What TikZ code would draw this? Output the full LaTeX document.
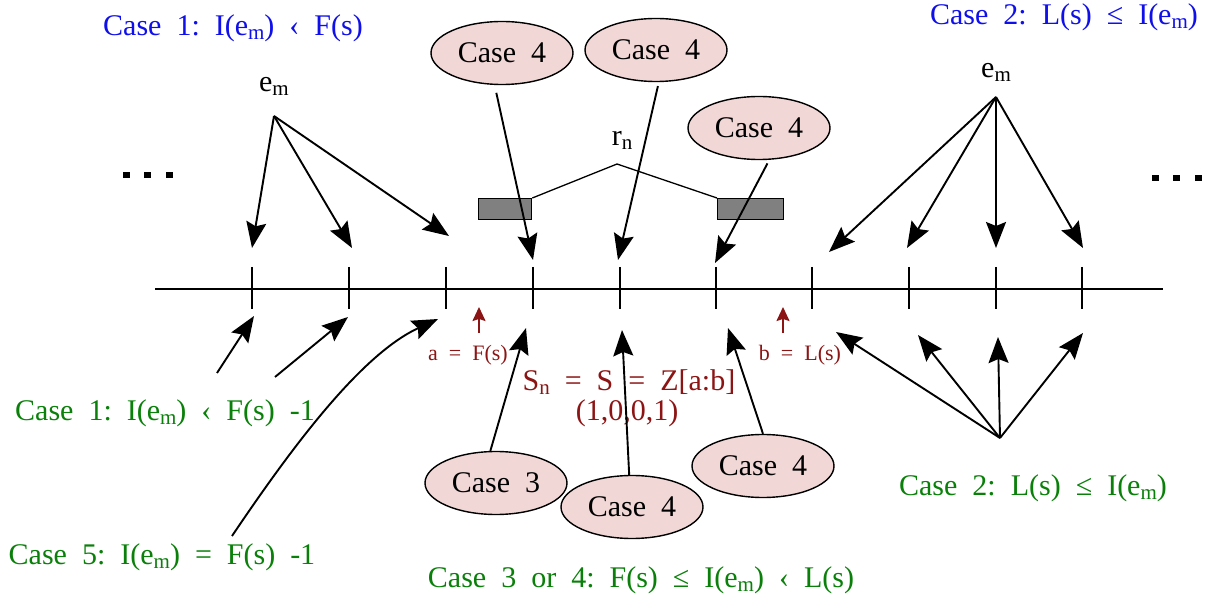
\documentclass[tikz,border=0pt]{standalone}
\usepackage{fontspec}
\setmainfont{Liberation Serif}
\usetikzlibrary{arrows.meta,shapes.geometric}
\definecolor{blueC}{RGB}{15,15,235}
\definecolor{greenC}{RGB}{10,128,10}
\definecolor{redC}{RGB}{140,20,20}
\definecolor{pinkC}{RGB}{242,215,215}
\definecolor{grayC}{RGB}{128,128,128}
\def\tw{\hspace{0.5em}}
\def\subm{\raisebox{-4pt}{\fontsize{21}{21}\selectfont m}}
\def\subn{\raisebox{-4pt}{\fontsize{21}{21}\selectfont n}}
\begin{document}
\begin{tikzpicture}[x=1pt,y=-1pt,
  every node/.style={font=\fontsize{30}{32}\selectfont, inner sep=0pt},
  arr/.style={line width=1.9pt, -{Stealth[length=26pt,width=20pt,inset=4pt]}},
  redarr/.style={line width=1.7pt, redC, -{Stealth[length=14pt,width=13pt,inset=2pt]}},
  casebox/.style={ellipse, draw, line width=1.4pt, fill=pinkC, minimum width=142pt, minimum height=63pt},
  tickline/.style={line width=1.8pt},
  blk/.style={draw, line width=1.3pt, fill=grayC, anchor=north west, minimum height=21pt},
  bluetxt/.style={text=blueC},
  greentxt/.style={text=greenC},
  redtxt/.style={text=redC},
  smallred/.style={text=redC, font=\fontsize{22}{24}\selectfont},
]
\useasboundingbox (0,0) rectangle (1216,601);

% axis and ticks
\coordinate (axL) at (155,289);
\coordinate (axR) at (1163,289);
\draw[tickline] (axL) -- (axR);
\foreach \x [count=\i] in {252,349,446,533,620,716,812,909,996,1082} {
  \coordinate (t\i) at (\x,289);
  \draw[tickline] (\x,267) -- (\x,309);
}

% dots
\foreach \x in {123,144,166} { \fill (\x,172) rectangle ++(6.5,6.5); }
\foreach \x in {1152,1173,1195} { \fill (\x,175) rectangle ++(6.5,6.5); }

% gray blocks and r_n
\node[blk, minimum width=53pt] (rl) at (478,198) {};
\node[blk, minimum width=66pt] (rr) at (717,198) {};
\coordinate (rnpk) at (617,164);
\draw[line width=1.3pt] (rl.north east) -- (rnpk) -- (rr.north west);
\node (rn) at (622,140) {r\subn};

% titles
\node[bluetxt] (b1) at (233,28) {Case\tw 1:\tw I(e\subm)\tw ‹\tw F(s)};
\node[bluetxt] (b2) at (1064,17) {Case\tw 2:\tw L(s)\tw ≤\tw I(e\subm)};
\node[greentxt] (g1) at (165,413) {Case\tw 1:\tw I(e\subm)\tw ‹\tw F(s)\tw -1};
\node[greentxt] (g5) at (162,557) {Case\tw 5:\tw I(e\subm)\tw =\tw F(s)\tw -1};
\node[greentxt] (g34) at (641,580) {Case\tw 3\tw or\tw 4:\tw F(s)\tw ≤\tw I(e\subm)\tw ‹\tw L(s)};
\node[greentxt] (g2) at (1033,488) {Case\tw 2:\tw L(s)\tw ≤\tw I(e\subm)};

% red labels
\node[smallred] (la) at (468,355) {a\tw =\tw F(s)};
\node[smallred] (lb) at (800,355) {b\tw =\tw L(s)};
\node[redtxt] (sn) at (629,382) {S\subn\tw =\tw S\tw =\tw Z[a:b]};
\node[redtxt] (vec) at (627,413) {(1,0,0,1)};
\coordinate (ra0) at (479,333); \coordinate (ra1) at (479,307);
\coordinate (rb0) at (783,333); \coordinate (rb1) at (783,307);
\draw[redarr] (ra0) -- (ra1);
\draw[redarr] (rb0) -- (rb1);

% e_m left
\node (emL) at (274,86) {e\subm};
\coordinate (emLo) at (274,116);
\coordinate (pL1) at (252,248);
\coordinate (pL2) at (352,248);
\coordinate (pL3) at (449,236);
\draw[arr] (emLo) -- (pL1);
\draw[arr] (emLo) -- (pL2);
\draw[arr] (emLo) -- (pL3);

% e_m right
\node (emR) at (996,72) {e\subm};
\coordinate (emRo) at (996,97);
\coordinate (pR1) at (829,252);
\coordinate (pR2) at (907,248);
\coordinate (pR3) at (996,248);
\coordinate (pR4) at (1083,248);
\draw[arr] (emRo) -- (pR1);
\draw[arr] (emRo) -- (pR2);
\draw[arr] (emRo) -- (pR3);
\draw[arr] (emRo) -- (pR4);

% case ellipses
\node[casebox] (c4a) at (502,53) {Case\tw 4};
\node[casebox] (c4b) at (656,50) {Case\tw 4};
\node[casebox] (c4c) at (759,128) {Case\tw 4};
\node[casebox] (c3) at (496,483) {Case\tw 3};
\node[casebox] (c4d) at (632,507) {Case\tw 4};
\node[casebox] (c4e) at (763,466) {Case\tw 4};

\coordinate (qa) at (533,260);
\coordinate (qb) at (618,260);
\coordinate (qc) at (715,263);
\coordinate (q3) at (526,328);
\coordinate (qd) at (622,330);
\coordinate (qe) at (728,328);
\draw[arr, shorten <=8pt] (c4a.-103) -- (qa);
\draw[arr, shorten <=4pt] (c4b.-85) -- (qb);
\draw[arr, shorten <=4pt] (c4c.-72) -- (qc);
\draw[arr] (c3.100) -- (q3);
\draw[arr] (c4d.95) -- (qd);
\draw[arr] (c4e.90) -- (qe);

% bottom left arrows
\coordinate (s1) at (217,373); \coordinate (e1) at (254,316);
\coordinate (s2) at (275,377); \coordinate (e2) at (348,317);
\coordinate (s5) at (232,536); \coordinate (e5) at (438,319);
\draw[arr] (s1) -- (e1);
\draw[arr] (s2) -- (e2);
\draw[arr] (s5) .. controls (290,450) and (360,355) .. (e5);

% bottom right arrows
\coordinate (bro) at (1000,438);
\coordinate (u1) at (836,332);
\coordinate (u2) at (918,335);
\coordinate (u3) at (998,337);
\coordinate (u4) at (1083,333);
\draw[arr] (bro) -- (u1);
\draw[arr] (bro) -- (u2);
\draw[arr] (bro) -- (u3);
\draw[arr] (bro) -- (u4);
\end{tikzpicture}
\end{document}
